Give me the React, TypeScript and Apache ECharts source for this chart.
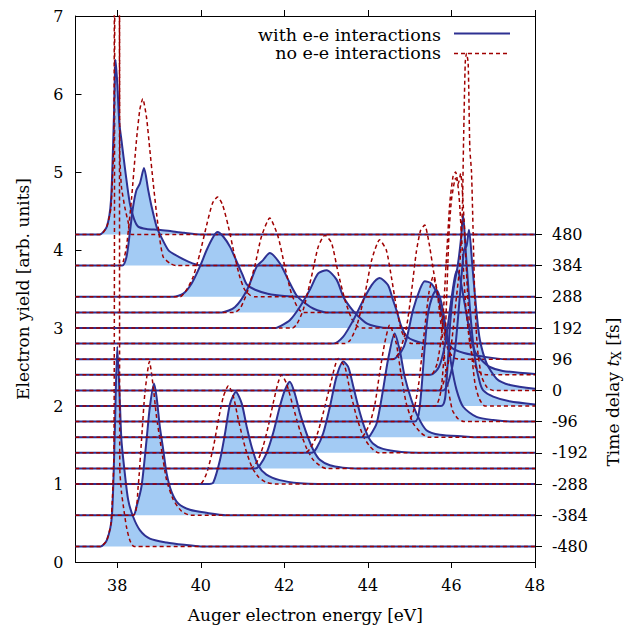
import React, { useEffect, useRef } from 'react';
import * as echarts from 'echarts';

type Pt = [number, number];

// ---- axis data ----
const energyRange = [37, 48];
const energyTicks = [38, 40, 42, 44, 46, 48];
const yieldRange = [0, 7];
const delayTicks = [-480, -384, -288, -192, -96, 0, 96, 192, 288, 384, 480];
// vertical offset of each trace follows the right (time delay) axis
const yieldAtZeroDelay = 2.2;
const yieldPerFs = 0.2 / 48;

// ---- spectra: [energy eV, yield above the trace's own baseline] ----
const withEE_m480: Pt[] = [[37,0],[37.6,0],[37.75,0.08],[37.87,0.38],[37.94,1.45],[38.0,2.56],[38.06,1.88],[38.1,1.36],[38.18,0.94],[38.26,0.6],[38.38,0.38],[38.54,0.21],[38.78,0.1],[39.18,0.05],[39.6,0.02],[40.0,0],[48,0]];
const noEE_m480: Pt[] = [[37,0],[37.6,0],[37.75,0.08],[37.85,0.3],[37.92,1.2],[37.955,8.5],[38.04,8.5],[38.06,1.0],[38.1,0.7],[38.15,0.5],[38.22,0.25],[38.3,0.08],[38.4,0],[48,0]];
const withEE_p480: Pt[] = [[37,0],[37.58,0],[37.75,0.1],[37.85,0.44],[37.92,1.51],[37.96,2.24],[38.0,1.94],[38.05,1.42],[38.1,1.21],[38.2,0.78],[38.3,0.4],[38.4,0.2],[38.5,0.1],[38.7,0.07],[39.0,0.06],[39.3,0.04],[39.6,0.02],[40.0,0],[48,0]];
const noEE_p480: Pt[] = [[37,0],[37.6,0],[37.75,0.1],[37.85,0.35],[37.92,1.3],[37.955,8.5],[38.04,8.5],[38.06,1.04],[38.1,0.61],[38.18,0.35],[38.26,0.16],[38.34,0],[48,0]];
const withEE_m384: Pt[] = [[37,0],[38.38,0],[38.46,0.11],[38.58,0.37],[38.7,0.96],[38.78,1.39],[38.88,1.69],[38.94,1.52],[39.02,1.13],[39.1,0.84],[39.18,0.54],[39.3,0.3],[39.46,0.15],[39.74,0.07],[40.14,0.03],[40.6,0],[48,0]];
const noEE_m384: Pt[] = [[37,0],[38.38,0],[38.5,0.37],[38.58,0.96],[38.66,1.56],[38.77,1.97],[38.86,1.65],[38.94,1.26],[39.06,0.84],[39.18,0.45],[39.34,0.2],[39.54,0.05],[39.75,0],[48,0]];
const withEE_p384: Pt[] = [[37,0],[38.12,0],[38.22,0.11],[38.3,0.42],[38.38,0.76],[38.46,0.97],[38.54,1.05],[38.64,1.25],[38.74,0.97],[38.82,0.76],[38.94,0.5],[39.02,0.4],[39.22,0.2],[39.38,0.14],[39.7,0.05],[40.0,0],[48,0]];
const noEE_p384: Pt[] = [[37,0],[38.06,0],[38.14,0.05],[38.22,0.24],[38.34,0.85],[38.46,1.61],[38.54,2.0],[38.61,2.14],[38.7,1.9],[38.78,1.48],[38.86,1.06],[38.94,0.67],[39.02,0.33],[39.1,0.11],[39.26,0.03],[39.4,0],[48,0]];
const withEE_m288: Pt[] = [[37,0],[40.2,0],[40.3,0.02],[40.46,0.31],[40.58,0.65],[40.7,1.03],[40.84,1.18],[40.98,1.03],[41.1,0.73],[41.22,0.47],[41.37,0.24],[41.57,0.12],[41.89,0.05],[42.37,0.01],[42.8,0],[48,0]];
const noEE_m288: Pt[] = [[37,0],[39.98,0],[40.14,0.14],[40.3,0.47],[40.42,0.82],[40.54,1.12],[40.66,1.26],[40.78,1.12],[40.9,0.82],[41.06,0.47],[41.22,0.22],[41.38,0.09],[41.57,0.02],[41.8,0],[48,0]];
const withEE_p288: Pt[] = [[37,0],[39.34,0],[39.58,0.04],[39.78,0.17],[39.98,0.39],[40.14,0.6],[40.3,0.77],[40.4,0.83],[40.54,0.77],[40.7,0.64],[40.86,0.45],[41.0,0.28],[41.1,0.16],[41.3,0.09],[41.6,0.04],[42.0,0.01],[42.4,0],[48,0]];
const noEE_p288: Pt[] = [[37,0],[39.5,0],[39.66,0.09],[39.82,0.26],[39.98,0.56],[40.14,0.92],[40.28,1.2],[40.4,1.28],[40.52,1.18],[40.66,0.9],[40.8,0.55],[40.92,0.28],[41.04,0.1],[41.18,0.02],[41.3,0],[48,0]];
const withEE_m240: Pt[] = [[37,0],[41.3,0],[41.41,0.04],[41.57,0.19],[41.73,0.45],[41.89,0.79],[42.01,1.0],[42.13,1.11],[42.25,0.96],[42.37,0.71],[42.53,0.45],[42.69,0.24],[42.85,0.11],[43.09,0.04],[43.4,0.01],[43.7,0],[48,0]];
const noEE_m240: Pt[] = [[37,0],[41.2,0],[41.37,0.11],[41.49,0.28],[41.61,0.53],[41.73,0.83],[41.85,1.1],[41.93,1.2],[42.05,1.09],[42.21,0.79],[42.37,0.49],[42.53,0.26],[42.69,0.11],[42.89,0.02],[43.0,0],[48,0]];
const withEE_p240: Pt[] = [[37,0],[40.5,0],[40.82,0.07],[41.1,0.28],[41.34,0.59],[41.49,0.67],[41.65,0.76],[41.89,0.63],[42.09,0.42],[42.29,0.22],[42.49,0.12],[42.69,0.05],[43.0,0],[48,0]];
const noEE_p240: Pt[] = [[37,0],[40.8,0],[40.94,0.05],[41.1,0.24],[41.29,0.59],[41.45,0.97],[41.65,1.21],[41.85,0.97],[42.01,0.59],[42.17,0.24],[42.33,0.05],[42.45,0],[48,0]];
const withEE_m192: Pt[] = [[37,0],[42.65,0],[42.77,0.06],[42.93,0.25],[43.09,0.59],[43.25,0.98],[43.41,1.17],[43.53,1.1],[43.65,0.85],[43.81,0.51],[43.97,0.25],[44.12,0.12],[44.36,0.05],[44.8,0.01],[45.2,0],[48,0]];
const noEE_m192: Pt[] = [[37,0],[42.5,0],[42.61,0.05],[42.77,0.21],[42.93,0.51],[43.09,0.85],[43.29,1.21],[43.45,1.1],[43.57,0.8],[43.73,0.46],[43.89,0.21],[44.05,0.08],[44.25,0],[48,0]];
const withEE_p192: Pt[] = [[37,0],[41.8,0],[41.89,0.02],[42.13,0.1],[42.37,0.27],[42.61,0.49],[42.81,0.7],[43.01,0.74],[43.25,0.62],[43.41,0.4],[43.57,0.27],[43.73,0.17],[43.97,0.06],[44.2,0.02],[44.5,0],[48,0]];
const noEE_p192: Pt[] = [[37,0],[42.2,0],[42.3,0.05],[42.45,0.23],[42.65,0.66],[42.81,1.04],[42.97,1.19],[43.13,1.09],[43.29,0.7],[43.45,0.36],[43.61,0.12],[43.75,0.02],[43.85,0],[48,0]];
const withEE_m144: Pt[] = [[37,0],[44.0,0],[44.05,0.02],[44.21,0.18],[44.36,0.6],[44.48,0.99],[44.64,1.33],[44.76,1.12],[44.88,0.78],[45.04,0.48],[45.2,0.26],[45.4,0.09],[45.72,0.03],[46.3,0.01],[46.6,0],[48,0]];
const noEE_m144: Pt[] = [[37,0],[43.85,0],[43.93,0.05],[44.05,0.18],[44.17,0.43],[44.28,0.82],[44.4,1.2],[44.52,1.44],[44.68,1.2],[44.8,0.78],[44.92,0.43],[45.08,0.18],[45.28,0.05],[45.45,0],[48,0]];
const withEE_p144: Pt[] = [[37,0],[43.17,0],[43.41,0.09],[43.65,0.3],[43.89,0.56],[44.09,0.75],[44.28,0.84],[44.48,0.75],[44.6,0.56],[44.7,0.4],[44.8,0.22],[44.92,0.1],[45.1,0.04],[45.4,0],[48,0]];
const noEE_p144: Pt[] = [[37,0],[43.45,0],[43.57,0.04],[43.73,0.22],[43.93,0.64],[44.09,1.07],[44.28,1.33],[44.44,1.2],[44.56,0.86],[44.68,0.47],[44.8,0.17],[44.92,0.04],[45.05,0],[48,0]];
const withEE_m96: Pt[] = [[37,0],[45.12,0],[45.24,0.19],[45.36,0.96],[45.44,1.39],[45.54,1.6],[45.64,1.69],[45.76,1.52],[45.88,1.15],[46.0,0.72],[46.12,0.41],[46.28,0.19],[46.6,0.06],[47.0,0.02],[47.5,0],[48,0]];
const noEE_m96: Pt[] = [[37,0],[44.95,0],[45.1,0.15],[45.22,0.5],[45.34,1.1],[45.46,1.65],[45.56,1.86],[45.66,1.65],[45.78,1.1],[45.9,0.5],[46.02,0.15],[46.15,0.04],[46.3,0],[48,0]];
const withEE_p96: Pt[] = [[37,0],[44.6,0],[44.8,0.1],[44.92,0.25],[45.08,0.63],[45.24,0.89],[45.36,1.0],[45.52,0.97],[45.68,0.8],[45.8,0.5],[45.88,0.3],[46.0,0.15],[46.3,0.08],[46.8,0.03],[47.3,0],[48,0]];
const noEE_p96: Pt[] = [[37,0],[44.6,0],[44.76,0.1],[44.92,0.4],[45.04,0.85],[45.16,1.38],[45.26,1.65],[45.36,1.72],[45.46,1.5],[45.58,1.1],[45.7,0.75],[45.8,0.4],[45.92,0.12],[46.05,0.02],[46.2,0],[48,0]];
const withEE_m48: Pt[] = [[37,0],[45.75,0],[45.88,0.33],[45.96,1.0],[46.05,1.5],[46.15,1.8],[46.22,2.1],[46.28,2.45],[46.34,2.0],[46.42,1.4],[46.5,0.9],[46.58,0.55],[46.68,0.3],[46.76,0.2],[47.0,0.12],[47.39,0.06],[48,0.02]];
const noEE_m48: Pt[] = [[37,0],[45.6,0],[45.75,0.2],[45.85,0.9],[45.94,2.2],[46.0,2.64],[46.1,2.92],[46.16,2.85],[46.22,2.98],[46.3,2.4],[46.38,1.5],[46.46,0.8],[46.56,0.3],[46.66,0.1],[46.8,0],[48,0]];
const withEE_p48: Pt[] = [[37,0],[45.5,0],[45.7,0.1],[45.85,0.4],[45.98,0.9],[46.08,1.25],[46.14,1.34],[46.22,1.2],[46.32,0.9],[46.44,0.55],[46.56,0.3],[46.7,0.2],[46.92,0.1],[47.23,0.05],[48,0.01]];
const noEE_p48: Pt[] = [[37,0],[45.5,0],[45.66,0.15],[45.78,0.6],[45.88,1.5],[45.96,2.2],[46.04,2.55],[46.1,2.6],[46.18,2.3],[46.26,1.6],[46.34,0.9],[46.44,0.4],[46.56,0.12],[46.7,0.02],[46.85,0],[48,0]];
const withEE_z0: Pt[] = [[37,0],[45.8,0],[45.95,0.15],[46.08,0.5],[46.2,1.2],[46.3,1.8],[46.36,1.85],[46.42,2.06],[46.5,1.6],[46.6,1.0],[46.68,0.65],[46.84,0.35],[47.08,0.15],[47.4,0.07],[48,0.02]];
const noEE_z0: Pt[] = [[37,0],[45.7,0],[45.86,0.2],[46.0,0.6],[46.12,1.2],[46.2,1.6],[46.26,2.3],[46.29,3.2],[46.33,4.2],[46.36,4.32],[46.4,4.2],[46.44,3.1],[46.48,2.8],[46.52,2.0],[46.56,1.16],[46.62,0.55],[46.72,0.18],[46.85,0.04],[47.0,0],[48,0]];

// drawing order: outermost delays first, zero delay last
const traces: { delay: number; withEE: Pt[]; noEE: Pt[] }[] = [
  { delay: -480, withEE: withEE_m480, noEE: noEE_m480 },
  { delay: 480, withEE: withEE_p480, noEE: noEE_p480 },
  { delay: -384, withEE: withEE_m384, noEE: noEE_m384 },
  { delay: 384, withEE: withEE_p384, noEE: noEE_p384 },
  { delay: -288, withEE: withEE_m288, noEE: noEE_m288 },
  { delay: 288, withEE: withEE_p288, noEE: noEE_p288 },
  { delay: -240, withEE: withEE_m240, noEE: noEE_m240 },
  { delay: 240, withEE: withEE_p240, noEE: noEE_p240 },
  { delay: -192, withEE: withEE_m192, noEE: noEE_m192 },
  { delay: 192, withEE: withEE_p192, noEE: noEE_p192 },
  { delay: -144, withEE: withEE_m144, noEE: noEE_m144 },
  { delay: 144, withEE: withEE_p144, noEE: noEE_p144 },
  { delay: -96, withEE: withEE_m96, noEE: noEE_m96 },
  { delay: 96, withEE: withEE_p96, noEE: noEE_p96 },
  { delay: -48, withEE: withEE_m48, noEE: noEE_m48 },
  { delay: 48, withEE: withEE_p48, noEE: noEE_p48 },
  { delay: 0, withEE: withEE_z0, noEE: noEE_z0 },
];

const FONT = '"DejaVu Serif", serif';
const BLUE = '#2e3192';
const RED = '#a00000';
const FILL = '#a3cbf4';

const offsetOf = (d: number) => yieldAtZeroDelay + d * yieldPerFs;
const delayOf = (y: number) => (y - yieldAtZeroDelay) / yieldPerFs;

function buildOption() {
  const series: any[] = [];
  traces.forEach((t) => {
    const base = offsetOf(t.delay);
    series.push({
      type: 'line',
      name: 'with e-e interactions',
      xAxisIndex: 0,
      yAxisIndex: 0,
      data: t.withEE.map(([e, s]) => [e, base + s]),
      symbol: 'none',
      showSymbol: false,
      smooth: 0.25,
      silent: true,
      lineStyle: { color: BLUE, width: 2 },
      areaStyle: { color: FILL, opacity: 1, origin: base },
      emphasis: { disabled: true },
    });
    series.push({
      type: 'line',
      name: 'no e-e interactions',
      xAxisIndex: 0,
      yAxisIndex: 0,
      data: t.noEE.map(([e, s]) => [e, base + s]),
      symbol: 'none',
      showSymbol: false,
      smooth: 0.2,
      silent: true,
      lineStyle: { color: RED, width: 1.5, type: [4, 3] },
      emphasis: { disabled: true },
    });
  });

  const labelStyle = { color: '#000', fontFamily: FONT, fontSize: 16 };
  const nameStyle = { color: '#000', fontFamily: FONT, fontSize: 17 };
  const axisLine = { show: true, onZero: false, lineStyle: { color: '#000', width: 1 } };

  return {
    animation: false,
    backgroundColor: '#fff',
    grid: { left: 75.5, right: 99, top: 16, bottom: 68, containLabel: false, outerBoundsMode: 'none' },
    xAxis: [
      {
        type: 'value', position: 'bottom', min: energyRange[0], max: energyRange[1],
        axisLine,
        axisTick: { show: true, inside: false, length: 6, customValues: energyTicks, lineStyle: { color: '#000' } },
        axisLabel: { show: true, customValues: energyTicks, margin: 15, ...labelStyle },
        splitLine: { show: false },
        name: 'Auger electron energy [eV]', nameLocation: 'middle', nameGap: 44, nameTextStyle: nameStyle,
      },
      {
        type: 'value', position: 'top', min: energyRange[0], max: energyRange[1],
        axisLine,
        axisTick: { show: true, inside: false, length: 6, customValues: energyTicks, lineStyle: { color: '#000' } },
        axisLabel: { show: false },
        splitLine: { show: false },
      },
    ],
    yAxis: [
      {
        type: 'value', position: 'left', min: yieldRange[0], max: yieldRange[1], interval: 1,
        axisLine,
        axisTick: { show: true, inside: true, length: 6, lineStyle: { color: '#000' } },
        axisLabel: { show: true, margin: 12, ...labelStyle },
        splitLine: { show: false },
        name: 'Electron yield [arb. units]', nameLocation: 'middle', nameGap: 44, nameTextStyle: nameStyle,
      },
      {
        type: 'value', position: 'right', min: delayOf(yieldRange[0]), max: delayOf(yieldRange[1]),
        axisLine,
        axisTick: { show: true, inside: false, length: 7, customValues: delayTicks, lineStyle: { color: '#000' } },
        axisLabel: { show: true, customValues: delayTicks, margin: 17, ...labelStyle },
        splitLine: { show: false },
      },
    ],
    graphic: [
      {
        type: 'text', x: 441, y: 34.5, silent: true,
        style: { text: 'with e-e interactions', fill: '#000', font: `17.5px ${FONT}`, textAlign: 'right', textVerticalAlign: 'middle' },
      },
      {
        type: 'text', x: 441, y: 53, silent: true,
        style: { text: 'no e-e interactions', fill: '#000', font: `17.5px ${FONT}`, textAlign: 'right', textVerticalAlign: 'middle' },
      },
      { type: 'line', silent: true, shape: { x1: 454, y1: 33.5, x2: 510, y2: 33.5 }, style: { stroke: BLUE, lineWidth: 2 } },
      { type: 'line', silent: true, shape: { x1: 454, y1: 53.5, x2: 510, y2: 53.5 }, style: { stroke: RED, lineWidth: 1.5, lineDash: [4, 3] } },
      {
        type: 'text', x: 613, y: 392, rotation: Math.PI / 2, silent: true,
        style: {
          text: 'Time delay {t|t}{x|X} [fs]',
          fill: '#000', font: `17px ${FONT}`, textAlign: 'center', textVerticalAlign: 'middle',
          rich: {
            t: { fontFamily: FONT, fontSize: 17, fontStyle: 'italic', fill: '#000' },
            x: { fontFamily: FONT, fontSize: 12, fill: '#000', padding: [8, 0, 0, 0] },
          },
        },
      },
    ],
    series,
  };
}

export default function App() {
  const ref = useRef<HTMLDivElement>(null);
  useEffect(() => {
    const chart = echarts.init(ref.current!, null, { renderer: 'svg' });
    chart.setOption(buildOption() as any);
    return () => chart.dispose();
  }, []);
  return <div ref={ref} style={{ position: 'fixed', left: 0, top: 0, width: 634, height: 630, background: '#fff' }} />;
}
